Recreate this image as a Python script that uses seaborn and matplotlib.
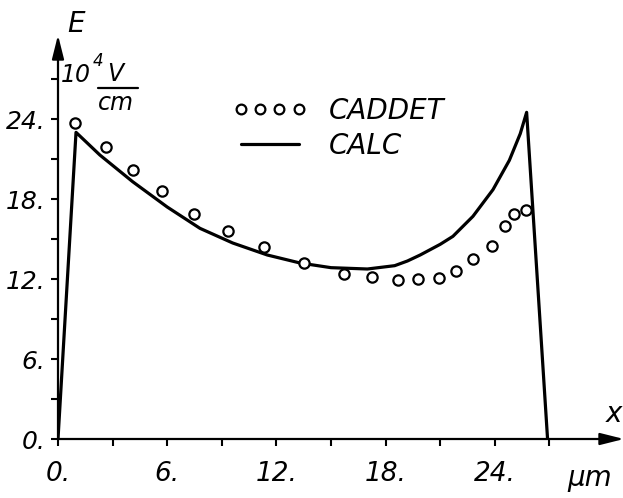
import matplotlib
matplotlib.use("Agg")
import matplotlib.pyplot as plt
import seaborn as sns
import pandas as pd
from matplotlib.lines import Line2D

# --- Data ---
calc_x = [0.0, 0.99, 2.3, 4.1, 6.0, 7.8, 9.6, 11.5, 13.3, 15.0, 17.0, 18.5,
          19.2, 19.9, 21.0, 21.7, 22.8, 23.9, 24.8, 25.4, 25.75, 26.9]
calc_y = [0.0, 23.0, 21.3, 19.3, 17.4, 15.8, 14.7, 13.8, 13.2, 12.85, 12.75, 13.0,
          13.35, 13.8, 14.6, 15.2, 16.7, 18.7, 20.9, 22.9, 24.5, 0.0]

caddet_x = [0.93, 2.64, 4.14, 5.73, 7.49, 9.36, 11.3, 13.5, 15.73, 17.24, 18.7,
            19.8, 20.95, 21.87, 22.82, 23.83, 24.58, 25.07, 25.71]
caddet_y = [23.7, 21.9, 20.2, 18.6, 16.9, 15.6, 14.4, 13.2, 12.36, 12.13, 11.93,
            12.03, 12.1, 12.58, 13.48, 14.45, 16.0, 16.9, 17.2]

x_ticks = [0, 6, 12, 18, 24]
x_tick_labels = ["0.", "6.", "12.", "18.", "24."]
y_ticks = [0, 6, 12, 18, 24]
y_tick_labels = ["0.", "6.", "12.", "18.", "24."]
minor_ticks = [3, 9, 15, 21, 27]

calc = pd.DataFrame({"x": calc_x, "E": calc_y})
caddet = pd.DataFrame({"x": caddet_x, "E": caddet_y})

sns.set_style("white")
plt.rcParams["font.family"] = ["DejaVu Sans"]
plt.rcParams["font.style"] = "italic"
for key in ["text.color", "xtick.color", "ytick.color", "axes.labelcolor"]:
    plt.rcParams[key] = "black"

W, H = 623, 498
fig = plt.figure(figsize=(6.23, 4.98), dpi=100)
ax = fig.add_axes([58 / W, 59 / H, 566 / W, 404 / H])

sns.lineplot(data=calc, x="x", y="E", color="black", linewidth=2.3,
             sort=False, ax=ax)
sns.scatterplot(data=caddet, x="x", y="E", marker="o", s=55,
                facecolor="white", edgecolor="black", linewidth=1.6,
                zorder=3, ax=ax)

ax.set_xlim(0, 31.1)
ax.set_ylim(0, 30.3)
ax.set_xlabel("")
ax.set_ylabel("")

# axes drawn as arrows
for s in ax.spines.values():
    s.set_visible(False)
arrow = dict(arrowstyle="-|>,head_length=0.8,head_width=0.2", lw=1.6,
             color="black", mutation_scale=18, shrinkA=0, shrinkB=0)
ax.annotate("", xy=(1, 0), xytext=(0, 0), xycoords="axes fraction",
            arrowprops=arrow, annotation_clip=False)
ax.annotate("", xy=(0, 1), xytext=(0, 0), xycoords="axes fraction",
            arrowprops=arrow, annotation_clip=False)

ax.set_xticks(x_ticks)
ax.set_xticklabels(x_tick_labels)
ax.set_yticks(y_ticks)
ax.set_yticklabels(y_tick_labels)
ax.set_xticks(minor_ticks, minor=True)
ax.set_yticks(minor_ticks, minor=True)
ax.tick_params(axis="both", which="both", direction="out", length=5,
               width=1.5, color="black")
ax.tick_params(axis="x", which="both", bottom=True, pad=11, labelsize=19)
ax.tick_params(axis="y", which="both", left=True, pad=4, labelsize=18)
for lab in ax.get_xticklabels() + ax.get_yticklabels():
    lab.set_fontstyle("italic")

# legend
h1 = Line2D([], [], marker="o", linestyle="none", markersize=7,
            markerfacecolor="white", markeredgecolor="black", markeredgewidth=1.6)
h2 = Line2D([], [], color="black", linewidth=2.3)
leg = ax.legend([h1, h2], ["CADDET", "CALC"], numpoints=4, frameon=False,
                loc="upper left", bbox_to_anchor=(233 / W, 1 - 97 / H),
                bbox_transform=fig.transFigure, borderpad=0, borderaxespad=0,
                handlelength=2.66, handletextpad=0.8, labelspacing=0.24,
                prop={"size": 20, "style": "italic"})

# axis labels
fig.text(76 / W, 1 - 32 / H, "E", fontsize=20, ha="center", va="baseline",
         style="italic")
fig.text(614 / W, 1 - 422 / H, "x", fontsize=20, ha="center", va="baseline",
         style="italic")
fig.text(590 / W, 1 - 486 / H, "μm", fontsize=20, ha="center", va="baseline",
         style="italic")
fig.text(76 / W, 1 - 82 / H, "10", fontsize=17, ha="center", va="baseline",
         style="italic")
fig.text(98 / W, 1 - 66 / H, "4", fontsize=12, ha="center", va="baseline",
         style="italic")
fig.text(115 / W, 1 - 81 / H, "V", fontsize=17, ha="center", va="baseline",
         style="italic")
fig.add_artist(Line2D([98 / W, 138 / W], [1 - 88 / H, 1 - 88 / H],
                      color="black", linewidth=1.6, transform=fig.transFigure))
fig.text(116 / W, 1 - 110 / H, "cm", fontsize=17, ha="center", va="baseline",
         style="italic")

plt.savefig("out.png", dpi=100)
plt.close()
